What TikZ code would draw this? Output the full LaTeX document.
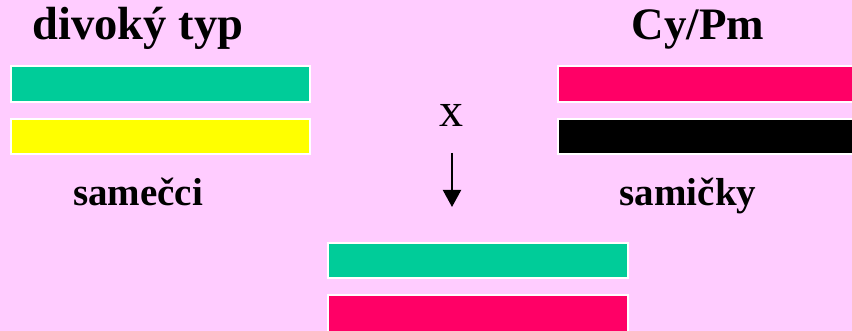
\documentclass[tikz,border=0pt]{standalone}
\usepackage{fontspec}
\setmainfont{Liberation Serif}
\usetikzlibrary{arrows.meta}
\definecolor{bg}{HTML}{FFCCFF}
\definecolor{cgreen}{HTML}{00CC99}
\definecolor{cyellow}{HTML}{FFFF00}
\definecolor{cred}{HTML}{FF0066}
\tikzset{
  bar/.style={draw=white, line width=2pt},
  head/.style={anchor=base, inner sep=0pt, font=\fontsize{45}{50}\selectfont\bfseries},
  sub/.style={anchor=base, inner sep=0pt, font=\fontsize{39}{44}\selectfont\bfseries},
  cross/.style={anchor=base, inner sep=0pt, font=\fontsize{48}{52}\selectfont},
}
\begin{document}
\begin{tikzpicture}[x=1pt,y=-1pt]
\useasboundingbox (0,0) rectangle (852,331);
\fill[bg] (0,0) rectangle (852,331);
% bars
\path[bar, fill=cgreen] (11,66) rectangle (310,102);
\path[bar, fill=cyellow] (11,119) rectangle (310,154);
\path[bar, fill=cred] (558,66) rectangle (854,102);
\path[bar, fill=black] (558,119) rectangle (854,154);
\path[bar, fill=cgreen] (328,243) rectangle (628,278);
\path[bar, fill=cred] (328,295) rectangle (628,334);
% texts
\node[head, font=\fontsize{46.5}{50}\selectfont\bfseries] (wt) at (138,40) {divoký typ};
\node[head] (cp) at (698,40) {Cy/Pm};
\node[sub] (m) at (138,206) {samečci};
\node[sub] (f) at (688,206) {samičky};
\node[cross] (x) at (451,127) {x};
% arrow
\coordinate (a1) at (452,153);
\coordinate (a2) at (452,207);
\draw[line width=2pt, -{Triangle[width=18pt,length=17pt]}] (a1) -- (a2);
\end{tikzpicture}
\end{document}
